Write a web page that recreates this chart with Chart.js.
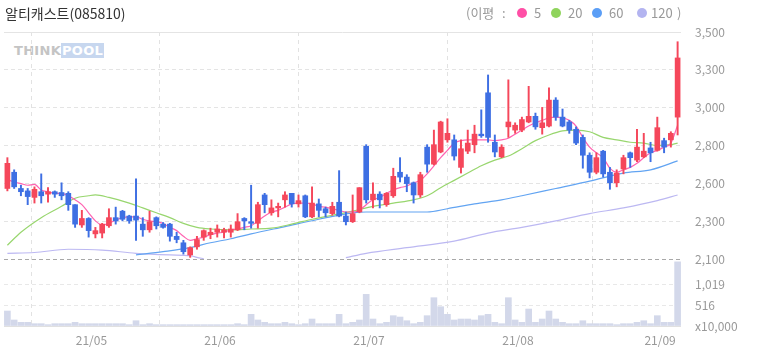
<!DOCTYPE html>
<html>
<head>
<meta charset="utf-8">
<script src="https://cdn.jsdelivr.net/npm/chart.js@4.4.1/dist/chart.umd.min.js"></script>
<style>
  html, body { margin: 0; padding: 0; background: #fff; }
  body { font-family: "Noto Sans CJK KR", "Noto Sans", sans-serif; }
  #box { position: relative; width: 758px; height: 355px; overflow: hidden; }
  #chart { position: absolute; left: 0; top: 0; }
  #title { position: absolute; left: 5px; top: 2px; font-size: 14px; color: #333; line-height: 22px; }
  #legend span { position: absolute; top: 2px; font-size: 13px; color: #999; line-height: 22px; white-space: nowrap; }
  #legend span.dot { top: 8px; width: 10px; height: 10px; border-radius: 50%; }
  #logo { position: absolute; left: 14px; top: 43px; font: bold 13px "DejaVu Sans", sans-serif; line-height: 15px; letter-spacing: 0.3px; }
  #logo .think { color: #c4c4c4; }
  #logo .pool { color: #fff; background: #c7d7ef; padding: 0 1px; }
</style>
</head>
<body>
<div id="box">
  <div id="logo"><span class="think">THINK</span><span class="pool">POOL</span></div>
  <canvas id="chart" width="758" height="355"></canvas>
  <div id="title">알티캐스트(085810)</div>
  <div id="legend"></div>
</div>
<script>
// trading days (yy/mm/dd)
const dates = [
  '21/04/14','21/04/15','21/04/16','21/04/19','21/04/20','21/04/21','21/04/22','21/04/23','21/04/26','21/04/27',
  '21/04/28','21/04/29','21/04/30','21/05/03','21/05/04','21/05/06','21/05/07','21/05/10','21/05/11','21/05/12',
  '21/05/13','21/05/14','21/05/17','21/05/18','21/05/20','21/05/21','21/05/24','21/05/25','21/05/26','21/05/27',
  '21/05/28','21/05/31','21/06/01','21/06/02','21/06/03','21/06/04','21/06/07','21/06/08','21/06/09','21/06/10',
  '21/06/11','21/06/14','21/06/15','21/06/16','21/06/17','21/06/18','21/06/21','21/06/22','21/06/23','21/06/24',
  '21/06/25','21/06/28','21/06/29','21/06/30','21/07/01','21/07/02','21/07/05','21/07/06','21/07/07','21/07/08',
  '21/07/09','21/07/12','21/07/13','21/07/14','21/07/15','21/07/16','21/07/19','21/07/20','21/07/21','21/07/22',
  '21/07/23','21/07/26','21/07/27','21/07/28','21/07/29','21/07/30','21/08/02','21/08/03','21/08/04','21/08/05',
  '21/08/06','21/08/09','21/08/10','21/08/11','21/08/12','21/08/13','21/08/17','21/08/18','21/08/19','21/08/20',
  '21/08/23','21/08/24','21/08/25','21/08/26','21/08/27','21/08/30','21/08/31','21/09/01','21/09/02','21/09/03'
];

const openP = [
  2535,2635,2535,2520,2480,2515,2500,2515,2510,2505,
  2435,2310,2350,2255,2260,2305,2355,2395,2365,2365,
  2315,2280,2355,2315,2315,2240,2200,2125,2175,2235,
  2250,2265,2265,2265,2280,2350,2330,2320,2495,2385,
  2415,2465,2505,2440,2490,2360,2440,2410,2380,2450,
  2365,2330,2390,2795,2465,2500,2435,2490,2635,2605,
  2570,2495,2790,2685,2760,2835,2835,2665,2765,2805,
  2870,3125,2820,2730,2915,2895,2895,2945,2980,2910,
  2920,3080,2975,2945,2900,2850,2740,2635,2765,2635,
  2570,2655,2755,2710,2730,2785,2770,2830,2835,2975
];
const highP = [
  2725,2650,2555,2535,2545,2625,2540,2520,2570,2515,
  2435,2400,2355,2295,2320,2410,2420,2400,2370,2595,
  2355,2395,2360,2325,2320,2265,2215,2175,2240,2280,
  2290,2310,2290,2310,2380,2355,2555,2450,2505,2465,
  2445,2515,2505,2495,2495,2545,2470,2420,2450,2645,
  2390,2495,2540,2805,2570,2515,2510,2660,2725,2620,
  2575,2635,2805,2895,2950,2965,2865,2835,2895,2925,
  3020,3235,2865,2805,3205,2940,2975,3165,3000,3035,
  3155,3095,3025,2955,2915,2865,2755,2755,2770,2665,
  2650,2740,2760,2900,2875,2820,2975,2845,2885,3440
];
const lowP = [
  2520,2535,2490,2435,2445,2445,2450,2480,2465,2400,
  2295,2295,2235,2230,2230,2295,2315,2335,2320,2215,
  2240,2265,2285,2290,2210,2200,2130,2110,2160,2215,
  2225,2235,2230,2235,2275,2280,2290,2290,2385,2370,
  2360,2420,2420,2420,2355,2355,2360,2360,2370,2360,
  2310,2325,2385,2445,2415,2415,2425,2480,2575,2515,
  2445,2480,2635,2680,2755,2820,2710,2630,2750,2755,
  2850,2820,2730,2725,2850,2875,2885,2940,2900,2870,
  2915,2955,2915,2875,2805,2660,2600,2625,2605,2530,
  2545,2625,2665,2700,2725,2700,2765,2755,2790,2865
];
const closeP = [
  2690,2545,2515,2485,2530,2490,2515,2500,2490,2435,
  2315,2350,2275,2275,2315,2355,2335,2345,2335,2340,
  2280,2330,2305,2295,2240,2220,2145,2170,2220,2275,
  2265,2285,2280,2285,2330,2335,2320,2435,2435,2415,
  2425,2495,2440,2460,2360,2445,2400,2385,2425,2365,
  2330,2380,2540,2465,2500,2465,2505,2610,2605,2565,
  2495,2620,2685,2805,2945,2875,2735,2780,2815,2870,
  2860,2850,2760,2790,2945,2925,2960,2980,2915,2940,
  3080,2975,2920,2895,2815,2740,2635,2725,2625,2570,
  2630,2725,2725,2790,2765,2755,2910,2790,2875,3340
];
// volume, x10,000 shares
const volume = [
  369,148,91,91,57,57,33,57,57,57,
  91,57,57,57,57,57,57,57,33,130,
  33,57,33,33,33,33,33,33,33,33,
  33,33,33,33,57,33,287,148,91,57,
  57,91,57,33,57,172,57,57,57,287,
  57,91,148,779,172,57,91,254,221,130,
  57,91,254,697,475,287,148,172,172,148,
  254,287,91,57,697,148,91,418,91,172,
  369,172,91,57,57,130,57,57,57,57,
  33,57,57,91,130,57,254,91,91,1580
];

// moving averages
const ma5 = [
  2590,2575,2565,2555,2560,2525,2515,2505,2505,2490,
  2465,2435,2385,2335,2310,2320,2340,2355,2360,2360,
  2345,2335,2330,2320,2295,2275,2240,2215,2225,2235,
  2250,2260,2265,2280,2285,2295,2305,2335,2365,2390,
  2400,2420,2440,2445,2445,2440,2425,2420,2410,2400,
  2390,2390,2400,2435,2465,2480,2505,2525,2540,2550,
  2570,2585,2625,2675,2725,2770,2815,2830,2835,2835,
  2835,2835,2830,2835,2845,2870,2895,2920,2940,2955,
  2970,2975,2970,2955,2920,2850,2790,2755,2725,2660,
  2635,2650,2665,2690,2725,2755,2770,2790,2815,2925
];
// [day index, value]
const ma20 = [
  [0,2185],[2,2265],[5,2355],[8,2425],[10,2475],[12,2490],[13,2495],[15,2480],[18,2445],[20,2415],
  [22,2385],[24,2355],[26,2320],[28,2295],[30,2285],[33,2280],[36,2285],[39,2290],[42,2315],[45,2345],
  [48,2370],[51,2395],[54,2425],[57,2445],[60,2465],[62,2490],[64,2540],[66,2585],[68,2630],[70,2675],
  [72,2710],[74,2735],[76,2780],[78,2830],[80,2865],[82,2890],[84,2895],[86,2885],[88,2850],[90,2835],
  [92,2820],[94,2815],[96,2800],[98,2805],[99,2815]
];
const ma60 = [
  [19,2125],[23,2145],[27,2170],[30,2200],[33,2225],[36,2255],[41,2300],[46,2345],[51,2385],[53,2390],
  [62,2390],[65,2410],[69,2440],[73,2465],[76,2490],[81,2535],[86,2580],[91,2630],[95,2650],[99,2705]
];
const ma120 = [
  [0,2135],[4,2140],[9,2160],[14,2155],[19,2135],[24,2125],[27,2120],[28,2110],[29,2102],[39,null],
  [50,2108],[53,2135],[59,2170],[66,2210],[71,2260],[76,2295],[81,2335],[86,2380],[91,2415],[96,2460],[99,2495]
];

const priceTickLabels = ['2,100', '2,300', '2,600', '2,800', '3,000', '3,300', '3,500'];
const volTicks = [0, 516, 1019];
const volTickLabels = ['x10,000', '516', '1,019'];
const legendNames = ['5', '20', '60', '120'];
const legendColors = ['#ff4fa6', '#8fd45c', '#5b9ef6', '#b3b4f0'];
const lineColors = ['#ff63b1', '#98d66e', '#62a4f2', '#bcb8f2'];

const priceMin = 2100, priceMax = 3500, volMax = 1650;
const UP = '#f5475b', DOWN = '#3e6fe3';
const axisFont = { family: '"Noto Sans CJK KR", "Noto Sans", sans-serif', size: 12 };

// legend: "(이평 : ● 5 ● 20 ● 60 ● 120 )"
const dotX = [517, 551, 592, 637];
const nameX = [534, 568, 609, 651];
let html = '<span style="left:466px">(이평</span><span style="left:502px">:</span>';
legendNames.forEach((t, k) => {
  html += '<span class="dot" style="left:' + dotX[k] + 'px;background:' + legendColors[k] + '"></span>';
  html += '<span style="left:' + nameX[k] + 'px">' + t + '</span>';
});
html += '<span style="left:677px">)</span>';
document.getElementById('legend').innerHTML = html;

const monthStarts = [];
dates.forEach((d, i) => {
  if (i > 0 && d.slice(3, 5) !== dates[i - 1].slice(3, 5)) monthStarts.push(i);
});

const candleColors = closeP.map((c, i) => c >= openP[i] ? UP : DOWN);
const bodies = openP.map((o, i) => [o, closeP[i]]);
const wicks = lowP.map((l, i) => [l, highP[i]]);
const pts = pairs => pairs.map(([i, v]) => ({ x: dates[i], y: v }));

function maLine(label, data, color, order) {
  return {
    type: 'line', label, data, yAxisID: 'y',
    borderColor: color, borderWidth: 1.2, pointRadius: 0,
    cubicInterpolationMode: 'monotone', order
  };
}

new Chart(document.getElementById('chart'), {
  type: 'bar',
  data: {
    labels: dates,
    datasets: [
      { label: 'body', data: bodies, yAxisID: 'y', backgroundColor: candleColors,
        barThickness: 5, minBarLength: 1, grouped: false, order: 0 },
      { label: 'wick', data: wicks, yAxisID: 'y', backgroundColor: candleColors,
        barThickness: 1.3, grouped: false, order: 1 },
      maLine('5', ma5, lineColors[0], 2),
      maLine('20', pts(ma20), lineColors[1], 3),
      maLine('60', pts(ma60), lineColors[2], 4),
      maLine('120', pts(ma120), lineColors[3], 5),
      { label: 'vol', data: volume, yAxisID: 'yv', backgroundColor: '#d3d8ea',
        barThickness: 6, grouped: false, order: 6 }
    ]
  },
  options: {
    responsive: false,
    animation: false,
    devicePixelRatio: 1,
    layout: { padding: { top: 32, left: 4, right: 0, bottom: 0 } },
    plugins: { legend: { display: false }, tooltip: { enabled: false } },
    scales: {
      x: {
        offset: true,
        grid: { offset: true, color: '#e2e2e2', drawTicks: false },
        border: { display: false, dash: [4, 4] },
        ticks: {
          autoSkip: false, maxRotation: 0, padding: 7, labelOffset: -4, color: '#999', font: axisFont,
          callback: v => dates[v].slice(0, 5)
        },
        afterBuildTicks: ax => { ax.ticks = monthStarts.map(i => ({ value: i })); },
        afterFit: ax => { ax.height = 29; }
      },
      y: {
        position: 'right', stack: 'panes', stackWeight: 227,
        min: priceMin, max: priceMax,
        grid: {
          drawTicks: false,
          color: ctx => ctx.tick && ctx.tick.value === priceMin ? '#a8a8a8' : '#e4e4e4'
        },
        border: { display: false, dash: ctx => ctx.tick && ctx.tick.value === priceMax ? [] : [4, 3] },
        ticks: { padding: 14, color: '#999', font: axisFont, callback: (v, i) => priceTickLabels[i] },
        afterBuildTicks: ax => {
          const n = priceTickLabels.length - 1;
          ax.ticks = priceTickLabels.map((_, k) => ({ value: priceMin + k * (priceMax - priceMin) / n }));
        },
        afterFit: ax => { ax.width = 77; }
      },
      yv: {
        position: 'right', stack: 'panes', stackWeight: 67,
        min: 0, max: volMax,
        grid: { drawTicks: false, color: ctx => ctx.tick && ctx.tick.value === 0 ? '#e0e0e0' : '#e8e8e8' },
        border: { display: false, dash: ctx => ctx.tick && ctx.tick.value === 0 ? [] : [4, 3] },
        ticks: { padding: 14, color: '#999', font: axisFont, callback: (v, i) => volTickLabels[i] },
        afterBuildTicks: ax => { ax.ticks = volTicks.map(v => ({ value: v })); },
        afterFit: ax => { ax.width = 77; }
      }
    }
  }
});
</script>
</body>
</html>
